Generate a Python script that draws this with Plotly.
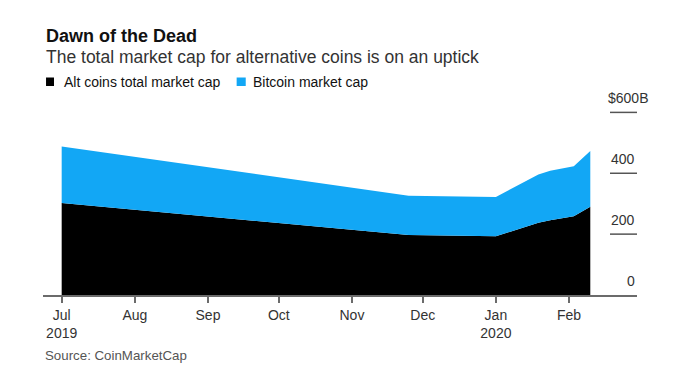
import plotly.graph_objects as go

# Data, $ billions
dates = ["2019-07-01", "2019-11-25", "2020-01-01", "2020-01-19",
         "2020-01-24", "2020-02-03", "2020-02-10"]
alt_coins = [302, 197, 193, 237, 246, 259, 290]
bitcoin = [186, 129, 129, 159, 162, 164, 183]

month_ticks = ["2019-07-01", "2019-08-01", "2019-09-01", "2019-10-01",
               "2019-11-01", "2019-12-01", "2020-01-01", "2020-02-01"]
month_labels = ["Jul<br>2019", "Aug", "Sep", "Oct", "Nov", "Dec",
                "Jan<br>2020", "Feb"]
y_ticks = [0, 200, 400, 600]
y_labels = ["0", "200", "400", "$600B"]

BLACK = "#000000"
BLUE = "#12a7f5"
FONT = "Liberation Sans, Arial, sans-serif"

fig = go.Figure()
fig.add_trace(go.Scatter(x=dates, y=alt_coins, stackgroup="one", mode="none",
                         fillcolor=BLACK, name="Alt coins total market cap",
                         hoverinfo="skip"))
fig.add_trace(go.Scatter(x=dates, y=bitcoin, stackgroup="one", mode="none",
                         fillcolor=BLUE, name="Bitcoin market cap",
                         hoverinfo="skip"))

fig.update_layout(
    width=680, height=382,
    margin=dict(l=35, r=51, t=77, b=95),
    paper_bgcolor="white", plot_bgcolor="white",
    showlegend=False,
    font=dict(family=FONT, size=14, color="#333333"),
)

fig.update_xaxes(
    type="date",
    range=["2019-06-23 02:00", "2020-02-29 19:00"],
    tickvals=month_ticks, ticktext=month_labels,
    showgrid=False, zeroline=False,
    showline=True, linecolor="#6b6b6b", linewidth=1.5,
    ticks="outside", ticklen=6, tickwidth=1.5, tickcolor="#6b6b6b",
    tickfont=dict(family=FONT, size=14, color="#333333"),
)
fig.update_yaxes(
    range=[0, 690], side="right",
    tickvals=y_ticks, showticklabels=False,
    showgrid=False, zeroline=False, showline=False, ticks="",
)

# short gridline dashes and value labels on the right
for v, lab in zip(y_ticks, y_labels):
    if v > 0:
        fig.add_shape(type="line", xref="paper", yref="y",
                      x0=0.9545, x1=1.0, y0=v, y1=v,
                      line=dict(color="#555555", width=1.5))
    fig.add_annotation(text=lab, xref="paper", yref="y", x=1.0, y=v,
                       xanchor="right", yanchor="middle", yshift=14,
                       xshift=13 if lab.startswith("$") else 0,
                       showarrow=False,
                       font=dict(family=FONT, size=14, color="#333333"))

# legend squares
fig.add_shape(type="rect", xref="paper", yref="paper",
              x0=0.0051, x1=0.0185, y0=0.9952, y1=1.0357,
              fillcolor=BLACK, line=dict(width=0))
fig.add_shape(type="rect", xref="paper", yref="paper",
              x0=0.326, x1=0.3413, y0=0.9952, y1=1.0357,
              fillcolor=BLUE, line=dict(width=0))

ann = [
    dict(text="<b>Dawn of the Dead</b>", x=0.0017, y=1.2333, size=18, color="#111111"),
    dict(text="The total market cap for alternative coins is on an uptick",
         x=0.0017, y=1.1333, size=17.5, color="#333333"),
    dict(text="Alt coins total market cap", x=0.0315, y=1.0157, size=14, color="#111111"),
    dict(text="Bitcoin market cap", x=0.3497, y=1.0157, size=14, color="#111111"),
    dict(text="Source: CoinMarketCap", x=0.0, y=-0.289, size=13.3, color="#555555"),
]
for a in ann:
    fig.add_annotation(text=a["text"], xref="paper", yref="paper",
                       x=a["x"], y=a["y"], xanchor="left", yanchor="middle",
                       showarrow=False,
                       font=dict(family=FONT, size=a["size"], color=a["color"]))

fig.write_html("out.html")
